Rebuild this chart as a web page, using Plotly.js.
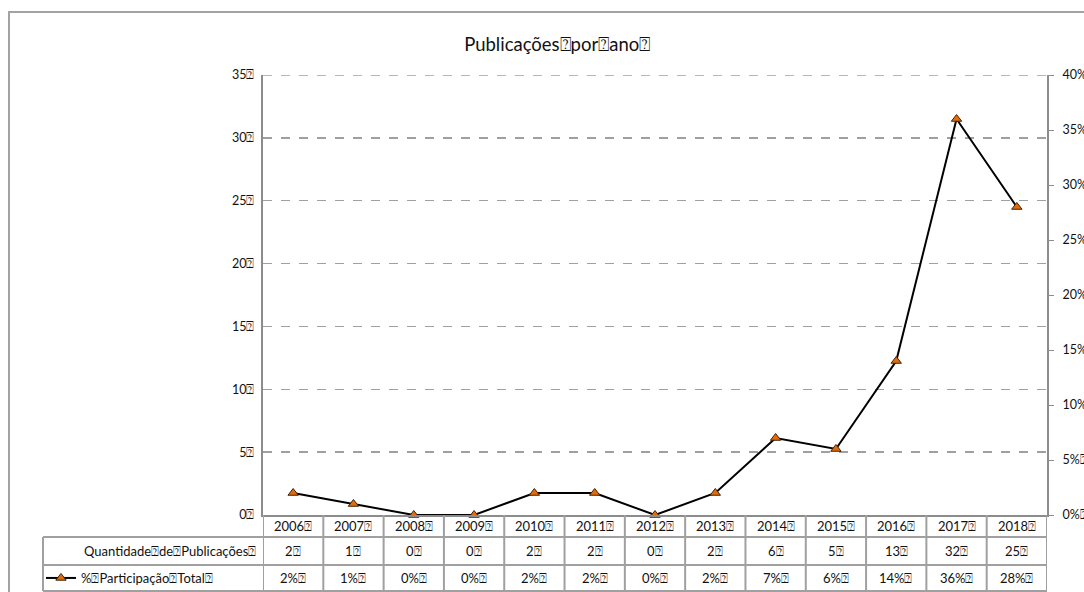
<!DOCTYPE html>
<html>
<head>
<meta charset="utf-8">
<script src="https://cdn.plot.ly/plotly-3.0.1.min.js"></script>
<style>
  html, body { margin: 0; padding: 0; background: #fff; overflow: hidden; }
  #chart { position: absolute; left: 0; top: 0; width: 1084px; height: 592px; }
  #frame { position: absolute; left: 8px; top: 11px; width: 1100px; height: 620px;
           border: 2px solid #a3a3a3; pointer-events: none; }
</style>
</head>
<body>
<div id="chart"></div>
<div id="frame"></div>
<script>
// ---- data ----
const BOX = '\u2370';
const chartTitle = 'Publicações' + BOX + 'por' + BOX + 'ano' + BOX;
const years = ['2006','2007','2008','2009','2010','2011','2012','2013','2014','2015','2016','2017','2018'];
const quantities = [2, 1, 0, 0, 2, 2, 0, 2, 6, 5, 13, 32, 25];
const pctValues = [2, 1, 0, 0, 2, 2, 0, 2, 7, 6, 14, 36, 28];
const leftTicks = [0, 5, 10, 15, 20, 25, 30, 35];
const rightTicks = [0, 5, 10, 15, 20, 25, 30, 35, 40];
const rowQtyLabel = 'Quantidade' + BOX + 'de' + BOX + 'Publicações' + BOX;
const rowPctLabel = '%' + BOX + 'Participação' + BOX + 'Total' + BOX;

// ---- geometry helpers (pixel -> paper) ----
const W = 1084, H = 592;
const M = {l: 263, r: 37, t: 75, b: 77, autoexpand: false};
const plotW = W - M.l - M.r, plotH = H - M.t - M.b;
const px2x = p => (p - M.l) / plotW;
const py2y = p => (H - M.b - p) / plotH;

const FONT = 'Lato, "Open Sans", "DejaVu Sans", sans-serif';
const GRID = '#a0a0a0';
const AXIS = '#8c8c8c';

const traces = [
  {
    // quantity series: present on the left axis but drawn without visible marks (as in the source)
    type: 'scatter', mode: 'lines', x: years, y: quantities, yaxis: 'y',
    name: rowQtyLabel, line: {color: 'rgba(0,0,0,0)', width: 0},
    showlegend: false, hoverinfo: 'skip'
  },
  {
    type: 'scatter', mode: 'lines+markers',
    x: years, y: pctValues, yaxis: 'y2',
    name: rowPctLabel,
    line: {color: '#000', width: 2},
    marker: {symbol: 'triangle-up', size: 9, color: '#E36C09', line: {color: '#3b2410', width: 1}},
    cliponaxis: false,
    showlegend: true
  }
];

const shapes = [];
// top gridline (at the axis maximum) that Plotly omits at the plot edge
shapes.push({type: 'line', xref: 'paper', yref: 'y', x0: 0, x1: 1, y0: leftTicks[leftTicks.length - 1],
  y1: leftTicks[leftTicks.length - 1], line: {color: GRID, width: 1.5, dash: 'dash'}});
const lineStyle = {color: GRID, width: 2};
[537, 565, 591].forEach(py => shapes.push({type: 'line', xref: 'paper', yref: 'paper',
  x0: px2x(43), x1: 1, y0: py2y(py), y1: py2y(py), line: lineStyle}));
for (let i = 0; i <= years.length; i++) {
  shapes.push({type: 'line', xref: 'x', yref: 'paper', x0: i - 0.5, x1: i - 0.5,
    y0: py2y(515), y1: py2y(591), line: lineStyle});
}
shapes.push({type: 'line', xref: 'paper', yref: 'paper', x0: px2x(43), x1: px2x(43),
  y0: py2y(537), y1: py2y(591), line: lineStyle});

const annotations = [];
const tf = {family: FONT, size: 13, color: '#111'};
years.forEach((yr, i) => {
  annotations.push({xref: 'x', yref: 'paper', x: i, y: py2y(526), text: yr + BOX, showarrow: false, font: tf, yanchor: 'middle'});
  annotations.push({xref: 'x', yref: 'paper', x: i, y: py2y(551), text: quantities[i] + BOX, showarrow: false, font: tf, yanchor: 'middle'});
  annotations.push({xref: 'x', yref: 'paper', x: i, y: py2y(578), text: pctValues[i] + '%' + BOX, showarrow: false, font: tf, yanchor: 'middle'});
});
annotations.push({xref: 'paper', yref: 'paper', x: px2x(258), y: py2y(551), xanchor: 'right', yanchor: 'middle',
  text: rowQtyLabel, showarrow: false, font: tf});

const layout = {
  width: W, height: H, margin: M,
  paper_bgcolor: '#fff', plot_bgcolor: '#fff',
  font: {family: FONT, size: 12, color: '#111'},
  title: {text: chartTitle, font: {family: FONT, size: 18.5, color: '#111'},
          xref: 'container', x: 0.514, xanchor: 'center', yref: 'container', y: 1 - 45 / H, yanchor: 'middle'},
  xaxis: {type: 'category', range: [-0.5, years.length - 0.5], showticklabels: false, ticks: '',
          showgrid: false, zeroline: false, showline: true, linecolor: AXIS, linewidth: 2, fixedrange: true},
  yaxis: {range: [0, 35], tickvals: leftTicks, ticktext: leftTicks.map(v => v + BOX),
          showgrid: true, gridcolor: GRID, gridwidth: 1.5, griddash: 'dash', zeroline: false,
          showline: true, linecolor: AXIS, linewidth: 2, ticks: '', ticklabelstandoff: 4,
          tickfont: {family: FONT, size: 12.5, color: '#111'}},
  yaxis2: {overlaying: 'y', side: 'right', range: [0, 40], tickvals: rightTicks,
           ticktext: rightTicks.map(v => v + '%' + BOX), showgrid: false, zeroline: false,
           showline: true, linecolor: AXIS, linewidth: 2, ticks: 'outside', ticklen: 5, tickcolor: AXIS, tickwidth: 1,
           ticklabelstandoff: 6, tickfont: {family: FONT, size: 12.5, color: '#111'}},
  showlegend: true,
  legend: {x: px2x(41), xanchor: 'left', y: py2y(578), yanchor: 'middle', bgcolor: 'rgba(0,0,0,0)',
           font: {family: FONT, size: 13, color: '#111'}, itemwidth: 30, tracegroupgap: 0},
  shapes: shapes,
  annotations: annotations
};

Plotly.newPlot('chart', traces, layout, {displayModeBar: false, staticPlot: true});
</script>
</body>
</html>
